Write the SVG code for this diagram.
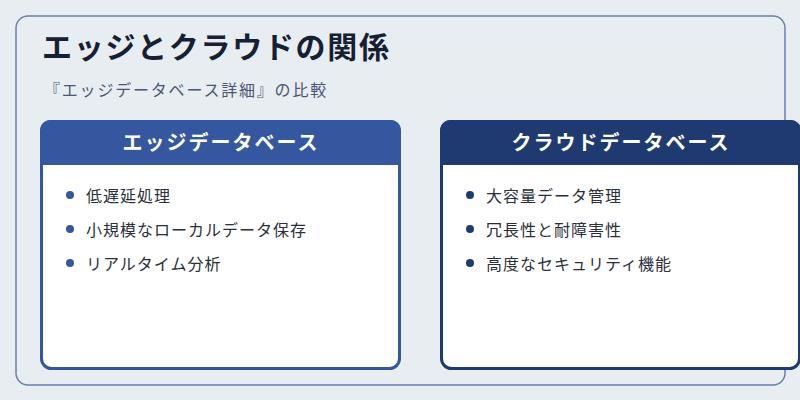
<svg xmlns="http://www.w3.org/2000/svg" width="800" height="400" viewBox="0 0 800 400">
<style>
.title{font-family:"Noto Sans CJK JP","Noto Sans",sans-serif;font-size:30px;font-weight:700;fill:#172033;letter-spacing:1.7px}
.sub{font-family:"Noto Sans CJK JP","Noto Sans",sans-serif;font-size:16px;fill:#4b5670;letter-spacing:1.8px}
.hdr{font-family:"Noto Sans CJK JP","Noto Sans",sans-serif;font-size:20px;font-weight:700;fill:#ffffff;letter-spacing:2px}
.item{font-family:"Noto Sans CJK JP","Noto Sans",sans-serif;font-size:16px;fill:#2a2f3a;letter-spacing:1px}
</style>
<rect width="800" height="400" fill="#e8edf2"/>
<rect x="16" y="16" width="769" height="369" rx="12" fill="none" stroke="#6a80aa" stroke-width="1.5"/>
<text class="title" x="42" y="58">エッジとクラウドの関係</text>
<text class="sub" x="44" y="96">『エッジデータベース詳細』の比較</text>
<g id="edge">
<rect x="41.5" y="121.5" width="358" height="247" rx="10" fill="#ffffff" stroke="#34579f" stroke-width="3"/>
<path d="M40 165 V130 A10 10 0 0 1 50 120 H391 A10 10 0 0 1 401 130 V165 Z" fill="#34579f"/>
<text class="hdr" x="221" y="150" text-anchor="middle">エッジデータベース</text>
<circle cx="70" cy="195" r="4" fill="#34579f"/>
<text class="item" x="86" y="202">低遅延処理</text>
<circle cx="70" cy="229" r="4" fill="#34579f"/>
<text class="item" x="86" y="236">小規模なローカルデータ保存</text>
<circle cx="70" cy="263" r="4" fill="#34579f"/>
<text class="item" x="86" y="270">リアルタイム分析</text>
</g>
<g id="cloud">
<rect x="441.5" y="121.5" width="358" height="247" rx="10" fill="#ffffff" stroke="#1f3a70" stroke-width="3"/>
<path d="M440 165 V130 A10 10 0 0 1 450 120 H791 A10 10 0 0 1 801 130 V165 Z" fill="#1f3a70"/>
<text class="hdr" x="621" y="150" text-anchor="middle">クラウドデータベース</text>
<circle cx="470" cy="195" r="4" fill="#1f3a70"/>
<text class="item" x="486" y="202">大容量データ管理</text>
<circle cx="470" cy="229" r="4" fill="#1f3a70"/>
<text class="item" x="486" y="236">冗長性と耐障害性</text>
<circle cx="470" cy="263" r="4" fill="#1f3a70"/>
<text class="item" x="486" y="270">高度なセキュリティ機能</text>
</g>
<g id="connectors"/>
</svg>
